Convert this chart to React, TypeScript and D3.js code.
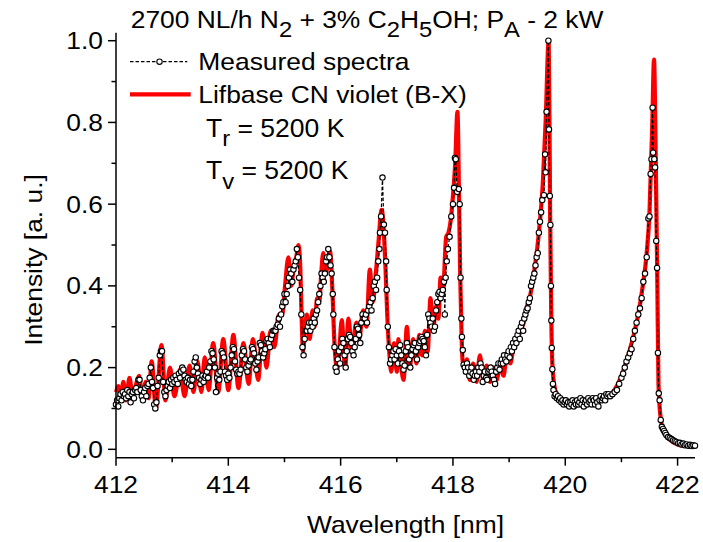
import React from 'react';
import * as d3 from 'd3';

const W = 703;
const H = 542;

const xDomain: [number, number] = [412, 422.31];
const yDomain: [number, number] = [-0.0205, 1.0196];
const xMajorTicks = [412, 414, 416, 418, 420, 422];
const xMinorTicks = [413, 415, 417, 419, 421];
const yMajorTicks = [0, 0.2, 0.4, 0.6, 0.8, 1.0];
const yMinorTicks = [0.1, 0.3, 0.5, 0.7, 0.9];

// Measured spectrum [wavelength nm, intensity a.u.]
const measured: [number, number][] = [
  [412.00,0.11],[412.02,0.12],[412.04,0.105],[412.06,0.125],[412.08,0.135],[412.10,0.12],[412.12,0.14],[412.14,0.13],
  [412.16,0.135],[412.18,0.125],[412.20,0.145],[412.22,0.13],[412.24,0.14],[412.26,0.115],[412.28,0.135],[412.30,0.14],
  [412.32,0.125],[412.34,0.145],[412.36,0.15],[412.38,0.14],[412.40,0.17],[412.42,0.17],[412.44,0.145],[412.46,0.13],
  [412.48,0.12],[412.50,0.14],[412.52,0.15],[412.54,0.13],[412.56,0.155],[412.58,0.16],[412.60,0.175],[412.62,0.20],
  [412.64,0.165],[412.66,0.15],[412.68,0.11],[412.70,0.10],[412.72,0.115],[412.74,0.155],[412.76,0.175],[412.78,0.23],
  [412.80,0.24],[412.82,0.24],[412.84,0.165],[412.86,0.14],[412.88,0.13],[412.90,0.145],
  [412.92,0.155],[412.94,0.165],[412.96,0.15],[412.98,0.17],[413.00,0.16],[413.02,0.175],[413.04,0.165],[413.06,0.18],
  [413.08,0.17],[413.10,0.16],[413.12,0.185],[413.14,0.175],[413.16,0.19],[413.18,0.20],[413.20,0.195],[413.22,0.18],
  [413.24,0.17],[413.26,0.165],[413.28,0.175],[413.30,0.16],[413.32,0.17],[413.34,0.155],[413.36,0.17],[413.38,0.19],
  [413.40,0.215],[413.42,0.225],[413.44,0.20],[413.46,0.185],[413.48,0.175],[413.50,0.16],[413.52,0.17],[413.54,0.18],
  [413.56,0.165],[413.58,0.175],
  [413.60,0.18],[413.62,0.19],[413.64,0.175],[413.66,0.20],[413.68,0.215],[413.70,0.24],[413.72,0.235],[413.74,0.22],
  [413.76,0.20],[413.78,0.14],[413.80,0.175],[413.82,0.185],[413.84,0.17],[413.86,0.19],[413.88,0.24],[413.90,0.235],
  [413.92,0.225],[413.94,0.19],[413.96,0.18],[413.98,0.17],[414.00,0.185],[414.02,0.175],[414.04,0.20],[414.06,0.23],
  [414.08,0.25],[414.10,0.245],[414.12,0.215],[414.14,0.195],[414.16,0.185],[414.18,0.19],[414.20,0.185],[414.22,0.195],
  [414.24,0.23],[414.26,0.245],[414.28,0.24],[414.30,0.22],[414.32,0.20],[414.34,0.19],[414.36,0.205],[414.38,0.215],
  [414.40,0.22],[414.42,0.25],[414.44,0.245],[414.46,0.235],[414.48,0.21],[414.50,0.195],[414.52,0.215],[414.54,0.225],
  [414.56,0.26],[414.58,0.255],[414.60,0.24],[414.62,0.225],[414.64,0.235],[414.66,0.245],[414.68,0.265],[414.70,0.27],
  [414.72,0.26],[414.74,0.25],[414.76,0.27],[414.78,0.28],[414.80,0.29],[414.82,0.29],[414.84,0.29],[414.86,0.30],
  [414.88,0.305],[414.90,0.32],
  [414.92,0.30],[414.94,0.33],[414.96,0.35],[414.98,0.36],[415.00,0.38],[415.02,0.36],[415.04,0.38],[415.06,0.40],
  [415.08,0.42],[415.10,0.44],[415.12,0.43],[415.14,0.41],[415.16,0.44],[415.18,0.45],[415.20,0.46],[415.22,0.49],
  [415.24,0.47],[415.26,0.42],[415.28,0.39],[415.30,0.33],[415.32,0.25],[415.34,0.23],[415.36,0.27],[415.38,0.29],
  [415.40,0.29],[415.42,0.30],[415.44,0.31],[415.46,0.29],[415.48,0.31],[415.50,0.30],[415.52,0.32],[415.54,0.31],
  [415.56,0.33],[415.58,0.34],[415.60,0.36],[415.62,0.38],[415.64,0.40],[415.66,0.43],[415.68,0.42],[415.70,0.41],
  [415.72,0.43],[415.74,0.46],[415.76,0.47],[415.78,0.49],[415.80,0.47],[415.82,0.45],[415.84,0.43],[415.86,0.38],
  [415.87,0.33],[415.89,0.25],[415.91,0.20],[415.93,0.19],
  [415.95,0.22],[415.97,0.24],[415.99,0.21],[416.01,0.25],[416.03,0.27],[416.05,0.26],[416.07,0.23],[416.09,0.20],
  [416.11,0.24],[416.13,0.27],[416.15,0.28],[416.17,0.275],[416.19,0.26],[416.21,0.24],[416.23,0.23],[416.25,0.25],
  [416.27,0.27],[416.29,0.30],[416.31,0.295],[416.33,0.28],[416.35,0.26],[416.37,0.31],[416.39,0.33],[416.41,0.32],
  [416.43,0.32],[416.45,0.33],[416.47,0.31],[416.49,0.34],[416.51,0.35],[416.53,0.36],[416.55,0.34],[416.57,0.37],
  [416.59,0.40],[416.61,0.41],[416.63,0.39],[416.65,0.42],[416.67,0.46],[416.69,0.49],[416.70,0.53],[416.72,0.57],
  [416.745,0.665],[416.77,0.55],[416.79,0.53],[416.81,0.46],[416.82,0.39],[416.84,0.30],[416.86,0.25],[416.88,0.21],
  [416.90,0.22],
  [416.92,0.23],[416.94,0.24],[416.96,0.22],[416.98,0.245],[417.00,0.23],[417.02,0.21],[417.04,0.24],[417.06,0.255],
  [417.08,0.23],[417.10,0.21],[417.12,0.195],[417.14,0.205],[417.16,0.24],[417.18,0.26],[417.20,0.25],[417.22,0.22],
  [417.24,0.20],[417.26,0.23],[417.28,0.245],[417.30,0.255],[417.32,0.26],[417.34,0.24],[417.36,0.22],[417.38,0.25],
  [417.40,0.26],[417.42,0.265],[417.44,0.275],[417.46,0.27],[417.48,0.265],[417.50,0.25],[417.52,0.23],[417.54,0.28],
  [417.56,0.33],[417.58,0.32],[417.60,0.31],[417.62,0.30],[417.64,0.32],[417.66,0.29],[417.68,0.30],[417.70,0.34],
  [417.72,0.36],[417.74,0.38],[417.76,0.385],[417.78,0.37],[417.80,0.38],[417.82,0.39],[417.84,0.41],[417.855,0.33],
  [417.87,0.42],[417.89,0.46],[417.91,0.49],[417.94,0.52],[417.97,0.57],[418.00,0.60],[418.02,0.64],[418.035,0.713],
  [418.05,0.71],[418.075,0.63],[418.105,0.637],[418.12,0.60],[418.135,0.42],[418.15,0.32],[418.16,0.275],[418.175,0.243],
  [418.19,0.207],
  [418.21,0.20],[418.23,0.19],[418.25,0.21],[418.27,0.20],[418.29,0.18],[418.31,0.19],[418.33,0.20],[418.35,0.185],
  [418.37,0.17],[418.39,0.18],[418.41,0.19],[418.43,0.18],[418.45,0.20],[418.47,0.19],[418.49,0.21],[418.51,0.20],
  [418.53,0.165],[418.55,0.18],[418.57,0.19],[418.59,0.175],[418.61,0.17],[418.63,0.19],[418.65,0.195],[418.67,0.20],
  [418.69,0.19],[418.71,0.18],[418.73,0.17],[418.75,0.16],[418.77,0.19],[418.79,0.20],[418.81,0.21],[418.83,0.195],
  [418.85,0.21],[418.87,0.22],[418.89,0.21],[418.91,0.23],[418.93,0.22],[418.95,0.215],[418.97,0.23],[418.99,0.24],
  [419.01,0.225],[419.03,0.25],[419.05,0.24],[419.07,0.26],[419.09,0.25],[419.11,0.27],[419.13,0.26],[419.15,0.28],
  [419.17,0.29],[419.19,0.27],[419.21,0.30],[419.23,0.31],[419.25,0.29],[419.27,0.32],[419.29,0.33],[419.31,0.34],
  [419.33,0.345],[419.35,0.36],[419.37,0.37],[419.39,0.40],[419.41,0.41],[419.43,0.42],[419.45,0.43],[419.47,0.45],
  [419.49,0.47],[419.51,0.48],[419.53,0.53],[419.55,0.557],[419.57,0.58],[419.59,0.61],[419.62,0.622],[419.64,0.722],
  [419.65,0.678],[419.667,0.826],[419.70,1.0],[419.71,0.783],[419.725,0.62],[419.735,0.549],[419.745,0.40],[419.752,0.315],
  [419.76,0.248],[419.77,0.196],[419.78,0.16],[419.79,0.145],
  [419.81,0.13],[419.83,0.135],[419.85,0.125],[419.87,0.13],[419.89,0.12],[419.91,0.125],[419.93,0.115],[419.95,0.12],
  [419.97,0.11],[419.99,0.115],[420.01,0.12],[420.03,0.11],[420.05,0.115],[420.07,0.105],[420.09,0.115],[420.11,0.11],
  [420.13,0.12],[420.15,0.105],[420.17,0.115],[420.19,0.11],[420.21,0.12],[420.23,0.11],[420.25,0.115],[420.27,0.125],
  [420.29,0.11],[420.31,0.12],[420.33,0.105],[420.35,0.115],[420.37,0.12],[420.39,0.11],[420.41,0.125],[420.43,0.115],
  [420.45,0.12],[420.47,0.11],[420.49,0.125],[420.51,0.12],[420.53,0.11],[420.55,0.125],[420.57,0.115],[420.59,0.105],
  [420.61,0.12],[420.63,0.13],[420.65,0.12],[420.67,0.125],[420.69,0.13],[420.71,0.12],[420.73,0.135],[420.75,0.13],
  [420.77,0.135],[420.80,0.13],[420.84,0.135],[420.88,0.14],[420.92,0.145],[420.96,0.16],[421.00,0.175],[421.03,0.185],
  [421.06,0.20],[421.09,0.215],[421.12,0.225],[421.15,0.235],[421.18,0.245],[421.21,0.27],[421.24,0.29],[421.27,0.31],
  [421.30,0.33],[421.33,0.345],[421.36,0.37],[421.39,0.41],[421.42,0.43],[421.45,0.47],[421.48,0.565],[421.50,0.57],
  [421.52,0.674],[421.535,0.71],[421.555,0.836],[421.565,0.726],[421.585,0.71],[421.60,0.69],[421.62,0.51],[421.635,0.444],
  [421.65,0.236],[421.665,0.137],[421.68,0.12],[421.70,0.072],[421.72,0.055],[421.74,0.05],[421.76,0.045],[421.78,0.04],
  [421.80,0.035],[421.83,0.03],[421.86,0.028],[421.89,0.025],[421.92,0.022],[421.95,0.02],[421.98,0.018],[422.01,0.015],
  [422.04,0.016],[422.07,0.012],[422.10,0.014],[422.13,0.01],[422.16,0.012],[422.19,0.009],[422.22,0.011],[422.25,0.008],
  [422.28,0.01],[422.31,0.009],
];

// LIFBASE simulated CN violet (B-X) spectrum [wavelength nm, intensity a.u.]
const simulated: [number, number][] = [
  [412.00,0.14],[412.04,0.155],[412.08,0.12],[412.13,0.165],[412.18,0.12],[412.24,0.175],[412.30,0.125],[412.36,0.16],
  [412.41,0.18],[412.47,0.125],[412.53,0.165],[412.58,0.125],[412.635,0.215],[412.71,0.10],[412.81,0.255],[412.88,0.12],
  [412.96,0.20],[413.04,0.13],[413.14,0.195],[413.22,0.13],[413.31,0.205],[413.38,0.14],[413.45,0.215],[413.52,0.14],
  [413.58,0.225],[413.65,0.145],[413.73,0.26],[413.82,0.14],[413.91,0.27],[414.00,0.145],[414.09,0.28],[414.18,0.15],
  [414.27,0.26],[414.36,0.16],[414.44,0.27],[414.53,0.17],[414.61,0.285],[414.68,0.20],[414.75,0.29],[414.82,0.25],
  [414.90,0.33],[414.96,0.33],[415.01,0.40],[415.07,0.47],[415.12,0.40],[415.16,0.44],[415.21,0.47],[415.25,0.50],
  [415.28,0.45],[415.30,0.35],[415.33,0.24],[415.37,0.30],[415.40,0.33],[415.45,0.27],[415.50,0.34],[415.54,0.30],
  [415.58,0.37],[415.62,0.36],[415.65,0.42],[415.69,0.48],[415.73,0.43],[415.77,0.45],[415.81,0.485],[415.85,0.40],
  [415.89,0.26],[415.94,0.195],[415.98,0.25],[416.02,0.316],[416.08,0.20],[416.14,0.32],[416.20,0.24],[416.28,0.31],
  [416.33,0.27],[416.40,0.34],[416.46,0.30],[416.52,0.44],[416.57,0.36],[416.62,0.42],[416.67,0.50],[416.73,0.586],
  [416.77,0.53],[416.80,0.44],[416.83,0.33],[416.87,0.23],[416.90,0.19],[416.95,0.26],[417.00,0.19],[417.03,0.27],
  [417.08,0.20],[417.12,0.17],[417.18,0.30],[417.23,0.20],[417.29,0.27],[417.35,0.21],[417.40,0.28],[417.45,0.23],
  [417.50,0.29],[417.55,0.24],[417.60,0.37],[417.65,0.30],[417.70,0.35],[417.74,0.32],[417.78,0.42],[417.82,0.38],
  [417.88,0.52],[417.92,0.53],[417.96,0.56],[418.00,0.62],[418.04,0.70],[418.08,0.826],[418.11,0.60],[418.13,0.42],
  [418.15,0.30],[418.17,0.22],[418.20,0.20],[418.25,0.22],[418.30,0.17],[418.36,0.21],[418.42,0.165],[418.48,0.23],
  [418.54,0.17],[418.60,0.205],[418.66,0.165],[418.72,0.20],[418.78,0.17],[418.84,0.21],[418.90,0.18],[418.96,0.23],
  [419.02,0.21],[419.08,0.25],[419.14,0.26],[419.20,0.29],[419.26,0.31],[419.32,0.35],[419.38,0.38],[419.44,0.43],
  [419.50,0.49],[419.55,0.56],[419.60,0.65],[419.65,0.80],[419.705,1.0],[419.73,0.58],[419.75,0.33],[419.77,0.21],
  [419.80,0.16],[419.85,0.135],[419.95,0.12],[420.10,0.115],[420.30,0.11],[420.50,0.115],[420.70,0.125],[420.85,0.14],
  [421.00,0.18],[421.10,0.22],[421.20,0.27],[421.30,0.33],[421.38,0.40],[421.45,0.48],[421.50,0.58],[421.55,0.80],
  [421.58,0.954],[421.61,0.72],[421.64,0.40],[421.66,0.16],[421.70,0.075],[421.75,0.045],[421.85,0.025],[422.00,0.012],
  [422.15,0.008],[422.30,0.005],
];

const titleParts = ['2700 NL/h N', '2', ' + 3% C', '2', 'H', '5', 'OH; P', 'A', ' - 2 kW'];
const legendMeasured = 'Measured spectra';
const legendSim = 'Lifbase CN violet (B-X)';
const tRotLabel = ['T', 'r', ' = 5200 K'];
const tVibLabel = ['T', 'v', ' = 5200 K'];
const xLabel = 'Wavelength [nm]';
const yLabel = 'Intensity [a. u.]';

const FONT = "'Liberation Sans', Arial, Helvetica, sans-serif";
const SX = 1.1;

function Txt(props: { x: number; y: number; anchor?: string; size?: number; rotate?: number; sx?: number; children: React.ReactNode }) {
  const { x, y, anchor = 'start', size = 24, rotate = 0, sx = SX, children } = props;
  return (
    <text
      transform={`translate(${x},${y}) rotate(${rotate}) scale(${sx},1)`}
      textAnchor={anchor}
      fontSize={size}
      fontFamily={FONT}
      fill="#000"
    >
      {children}
    </text>
  );
}

function SubText({ x, y, parts, size = 24, sx = SX, shift = 9 }: { x: number; y: number; parts: string[]; size?: number; sx?: number; shift?: number }) {
  return (
    <Txt x={x} y={y} size={size} sx={sx}>
      {parts.map((p, i) => {
        const isSub = i % 2 === 1;
        const prevSub = i > 0 && (i - 1) % 2 === 1;
        const dy = isSub ? shift : prevSub ? -shift : 0;
        return (
          <tspan key={i} dy={dy} fontSize={isSub ? size * 0.9 : size}>
            {p}
          </tspan>
        );
      })}
    </Txt>
  );
}

export default function App() {
  const left = 116;
  const right = 695;
  const top = 32.7;
  const bottom = 457.7;

  const x = d3.scaleLinear().domain(xDomain).range([left, right]);
  const y = d3.scaleLinear().domain(yDomain).range([bottom, top]);

  const simPath = d3
    .line<[number, number]>()
    .x((d) => x(d[0]))
    .y((d) => y(d[1]))
    .curve(d3.curveMonotoneX)(simulated) || '';
  const measPath = d3
    .line<[number, number]>()
    .x((d) => x(d[0]))
    .y((d) => y(d[1]))(measured) || '';

  return (
    <svg
      width={W}
      height={H}
      viewBox={`0 0 ${W} ${H}`}
      style={{ position: 'absolute', left: 0, top: 0, background: '#fff' }}
    >
      <rect x={0} y={0} width={W} height={H} fill="#fff" />

      {/* data */}
      <path d={simPath} fill="none" stroke="#ff0000" strokeWidth={4.2} strokeLinejoin="round" />
      <path d={measPath} fill="none" stroke="#000" strokeWidth={1.2} strokeDasharray="3.5,2" />
      {measured.map((d, i) => (
        <circle key={i} cx={x(d[0])} cy={y(d[1])} r={2.7} fill="#fff" stroke="#000" strokeWidth={1.1} />
      ))}

      {/* axes */}
      <line x1={left} x2={left} y1={top} y2={bottom} stroke="#000" strokeWidth={1.5} />
      <line x1={left} x2={right} y1={bottom} y2={bottom} stroke="#000" strokeWidth={1.5} />
      {xMajorTicks.map((t) => (
        <g key={'xM' + t}>
          <line x1={x(t)} x2={x(t)} y1={bottom} y2={bottom + 8} stroke="#000" strokeWidth={1.5} />
          <Txt x={x(t)} y={493.3} anchor="middle">{String(t)}</Txt>
        </g>
      ))}
      {xMinorTicks.map((t) => (
        <line key={'xm' + t} x1={x(t)} x2={x(t)} y1={bottom} y2={bottom + 4.5} stroke="#000" strokeWidth={1.5} />
      ))}
      {yMajorTicks.map((t) => (
        <g key={'yM' + t}>
          <line x1={left - 8} x2={left} y1={y(t)} y2={y(t)} stroke="#000" strokeWidth={1.5} />
          <Txt x={103} y={y(t) + 8.6} anchor="end">{t.toFixed(1)}</Txt>
        </g>
      ))}
      {yMinorTicks.map((t) => (
        <line key={'ym' + t} x1={left - 4.5} x2={left} y1={y(t)} y2={y(t)} stroke="#000" strokeWidth={1.5} />
      ))}

      {/* axis titles */}
      <Txt x={(left + right) / 2} y={532.7} anchor="middle">{xLabel}</Txt>
      <Txt x={41.7} y={260} anchor="middle" rotate={-90}>{yLabel}</Txt>

      {/* title */}
      <SubText x={130.7} y={27.7} parts={titleParts} shift={9.5} />

      {/* legend */}
      <line x1={130} x2={187.3} y1={61.7} y2={61.7} stroke="#000" strokeWidth={1.2} strokeDasharray="3.5,2" />
      <circle cx={159.5} cy={61.7} r={2.7} fill="#fff" stroke="#000" strokeWidth={1.1} />
      <Txt x={198.3} y={70}>{legendMeasured}</Txt>
      <line x1={130} x2={190.7} y1={94.3} y2={94.3} stroke="#ff0000" strokeWidth={4.2} />
      <Txt x={198.3} y={103.3}>{legendSim}</Txt>
      <SubText x={206} y={136.7} parts={tRotLabel} size={25.5} sx={1.04} shift={9} />
      <SubText x={206} y={179.3} parts={tVibLabel} size={25.5} sx={1.04} shift={10} />
    </svg>
  );
}
